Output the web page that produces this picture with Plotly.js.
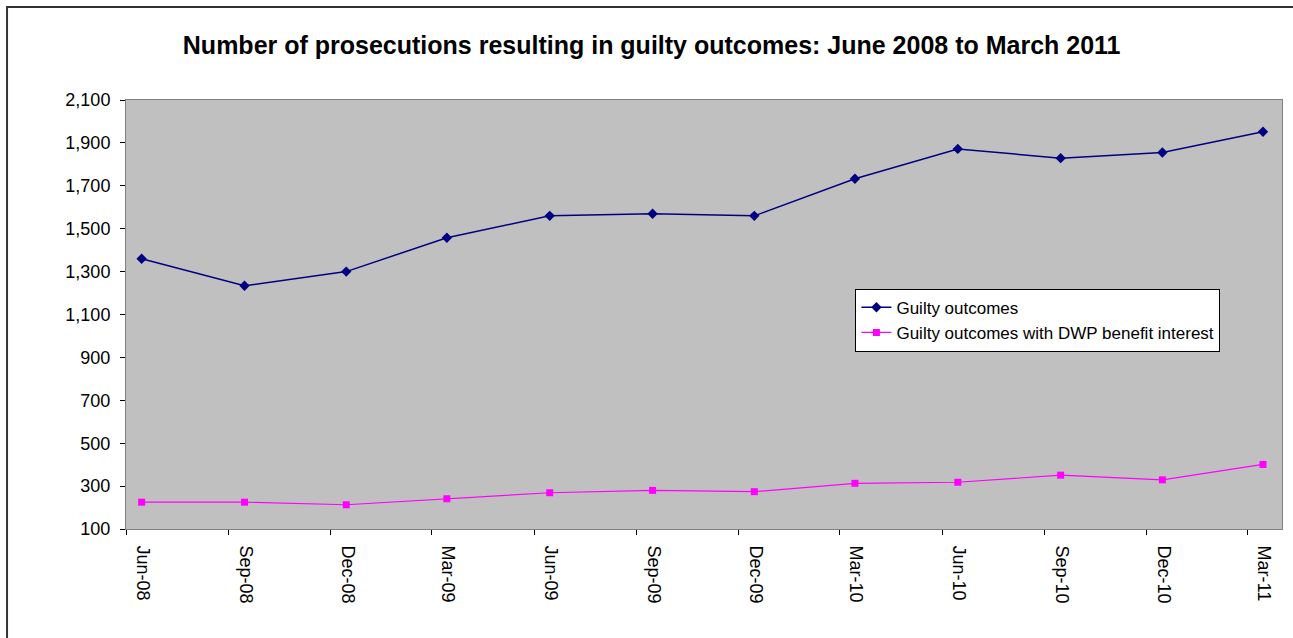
<!DOCTYPE html>
<html>
<head>
<meta charset="utf-8">
<script src="https://cdn.plot.ly/plotly-3.0.1.min.js"></script>
<style>
  html, body { margin: 0; padding: 0; background: #fff; }
  #grafico { width: 1293px; height: 638px; }
</style>
</head>
<body>
<div id="grafico"></div>
<script>
// quarter-end months, plotted at mid-month
const quarters = ['2008-06-15', '2008-09-15', '2008-12-15', '2009-03-15', '2009-06-15', '2009-09-15',
                  '2009-12-15', '2010-03-15', '2010-06-15', '2010-09-15', '2010-12-15', '2011-03-15'];
const tickDates = ['2008-06-01', '2008-09-01', '2008-12-01', '2009-03-01', '2009-06-01', '2009-09-01',
                   '2009-12-01', '2010-03-01', '2010-06-01', '2010-09-01', '2010-12-01', '2011-03-01'];
const tickLabels = ['Jun-08', 'Sep-08', 'Dec-08', 'Mar-09', 'Jun-09', 'Sep-09',
                    'Dec-09', 'Mar-10', 'Jun-10', 'Sep-10', 'Dec-10', 'Mar-11'];
const guilty = [1360, 1234, 1300, 1458, 1560, 1570, 1560, 1733, 1872, 1829, 1855, 1952];
const guiltyDwp = [225, 225, 213, 241, 269, 280, 274, 313, 318, 351, 329, 401];

const font = 'Liberation Sans, Arial, sans-serif';

function plotGraph() {
    let guiltyLine = {
        x: quarters,
        y: guilty,
        name: 'Guilty outcomes',
        type: 'scatter',
        mode: 'lines+markers',
        line: { color: '#000080', width: 1.5 },
        marker: { symbol: 'diamond', size: 8, color: '#000080' }
    };

    let dwpLine = {
        x: quarters,
        y: guiltyDwp,
        name: 'Guilty outcomes with DWP benefit interest',
        type: 'scatter',
        mode: 'lines+markers',
        line: { color: '#FF00FF', width: 1.2 },
        marker: { symbol: 'square', size: 7, color: '#FF00FF' }
    };

    let layout = {
        width: 1293,
        height: 638,
        margin: { l: 126, r: 11, t: 100, b: 109 },
        paper_bgcolor: '#ffffff',
        plot_bgcolor: '#C0C0C0',
        font: { family: font, color: '#000' },
        title: {
            text: '<b>Number of prosecutions resulting in guilty outcomes: June 2008 to March 2011</b>',
            font: { family: font, size: 25, color: '#000' },
            x: 0.504, xref: 'container', xanchor: 'center',
            y: 0.929, yref: 'container', yanchor: 'middle'
        },
        xaxis: {
            type: 'date',
            range: ['2008-06-01', '2011-04-01'],
            tickmode: 'array',
            tickvals: tickDates,
            ticktext: tickLabels,
            tickangle: 90,
            ticklabelshift: 17,
            ticklabelstandoff: 7,
            ticks: 'outside',
            ticklen: 5,
            tickcolor: '#000',
            tickfont: { family: font, size: 18, color: '#000' },
            showgrid: false,
            showline: true,
            linecolor: '#808080',
            linewidth: 1,
            mirror: true,
            zeroline: false
        },
        yaxis: {
            range: [100, 2100],
            tickmode: 'linear',
            tick0: 100,
            dtick: 200,
            tickformat: ',d',
            ticks: 'outside',
            ticklen: 5,
            ticklabelstandoff: 6,
            tickcolor: '#000',
            tickfont: { family: font, size: 18, color: '#000' },
            showgrid: false,
            showline: true,
            linecolor: '#808080',
            linewidth: 1,
            mirror: true,
            zeroline: false
        },
        legend: {
            x: 0.631, y: 0.56,
            xanchor: 'left', yanchor: 'top',
            bgcolor: '#ffffff',
            bordercolor: '#000',
            borderwidth: 1,
            font: { family: font, size: 17, color: '#000' },
            itemwidth: 30,
            tracegroupgap: 0
        },
        shapes: [{
            type: 'rect', xref: 'paper', yref: 'paper',
            x0: -0.1029, x1: 1.05, y0: -0.35, y1: 1.2168,
            line: { color: '#333333', width: 2 },
            fillcolor: 'rgba(0,0,0,0)',
            layer: 'below'
        }],
        showlegend: true
    };

    Plotly.newPlot('grafico', [guiltyLine, dwpLine], layout, { displayModeBar: false, staticPlot: true });
}

document.addEventListener("DOMContentLoaded", () => {
    plotGraph();
});
</script>
</body>
</html>
